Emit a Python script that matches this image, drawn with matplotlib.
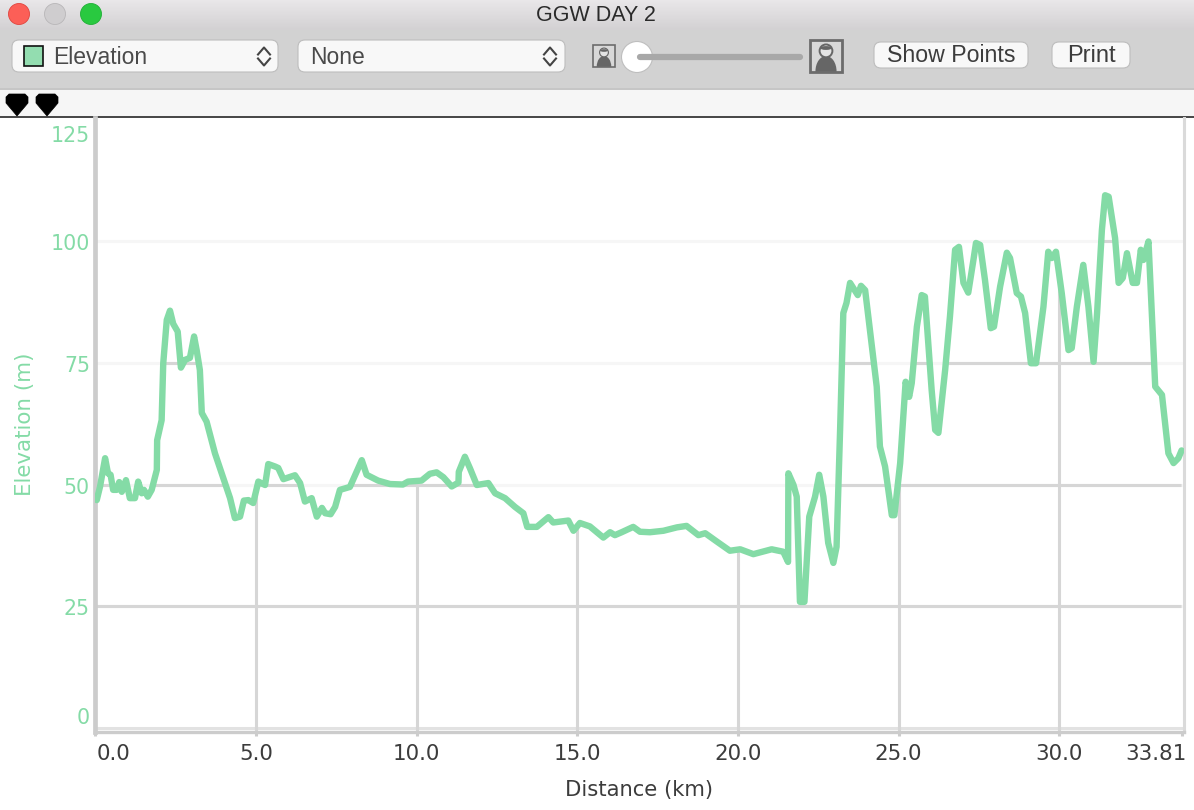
# -*- coding: utf-8 -*-
"""
Elevation profile in a desktop app window (GGW DAY 2).
"""

import numpy as np
import matplotlib
matplotlib.use('Agg')
from matplotlib import pyplot as plt
from matplotlib.patches import Circle, Ellipse, FancyBboxPatch, Polygon, Rectangle
from matplotlib.transforms import ScaledTranslation

# DATA
# ----
distance_km = [
    0.04, 0.14, 0.30, 0.39, 0.47, 0.55, 0.66, 0.74, 0.82, 0.95, 1.07, 1.23, 1.33, 1.44, 1.51,
    1.63, 1.75, 1.91, 1.92, 2.06, 2.11, 2.22, 2.32, 2.42, 2.56, 2.66, 2.79, 2.94, 3.07, 3.15,
    3.25, 3.31, 3.46, 3.72, 4.03, 4.19, 4.34, 4.50, 4.62, 4.76, 4.91, 5.07, 5.28, 5.38, 5.59,
    5.69, 5.85, 6.21, 6.37, 6.52, 6.73, 6.89, 7.05, 7.15, 7.32, 7.46, 7.61, 7.92, 8.29, 8.44,
    8.80, 9.17, 9.57, 9.73, 10.15, 10.41, 10.62, 10.83, 11.09, 11.30, 11.31, 11.50, 11.66,
    11.87, 12.23, 12.44, 12.75, 13.06, 13.32, 13.44, 13.74, 14.10, 14.25, 14.72, 14.88, 15.08,
    15.39, 15.81, 16.02, 16.17, 16.38, 16.74, 16.95, 17.26, 17.68, 18.10, 18.40, 18.77, 18.98,
    19.34, 19.75, 20.07, 20.48, 21.05, 21.41, 21.56, 21.57,
    21.73, 21.83, 21.93, 22.07, 22.22, 22.40, 22.53, 22.66, 22.81, 22.97, 23.07, 23.18, 23.28,
    23.38, 23.49, 23.73, 23.83, 23.96, 24.32, 24.42, 24.58, 24.79, 24.87, 25.05, 25.22, 25.33,
    25.41, 25.57, 25.72, 25.82, 26.03, 26.14, 26.24, 26.45, 26.60, 26.76, 26.88, 27.02, 27.17,
    27.33, 27.41, 27.54, 27.69, 27.87, 27.97, 28.16, 28.37, 28.47, 28.68, 28.81, 28.94, 29.12,
    29.28, 29.51, 29.66, 29.77, 29.90, 30.08, 30.29, 30.39, 30.55, 30.75, 30.91, 31.07, 31.18,
    31.33, 31.43, 31.54, 31.74, 31.85, 31.98, 32.11, 32.29, 32.42, 32.54, 32.62, 32.78, 32.99,
    33.20, 33.40, 33.56, 33.71, 33.81,
]
elevation_m = [
    46.8, 49.5, 55.4, 52.3, 52.0, 48.9, 48.9, 50.5, 48.5, 50.9, 47.2, 47.2, 50.6, 48.2, 48.9,
    47.5, 48.9, 53.0, 59.1, 63.2, 74.9, 83.8, 85.7, 83.0, 81.4, 74.0, 75.6, 76.0, 80.4, 77.6,
    73.5, 64.7, 62.9, 56.4, 50.3, 47.2, 43.1, 43.4, 46.7, 46.8, 46.2, 50.6, 49.9, 54.2, 53.7,
    53.4, 51.1, 51.9, 50.3, 46.5, 47.2, 43.4, 45.2, 44.1, 43.9, 45.4, 48.9, 49.5, 55.0, 52.0,
    50.8, 50.1, 50.0, 50.6, 50.8, 52.2, 52.5, 51.5, 49.6, 50.4, 52.6, 55.7, 53.3,
    49.9, 50.3, 48.2, 47.2, 45.4, 44.1, 41.3, 41.3, 43.3, 42.2, 42.6, 40.5, 42.1,
    41.4, 39.1, 40.2, 39.6, 40.2, 41.3, 40.3, 40.2, 40.5, 41.2, 41.5, 39.6, 40.0,
    38.3, 36.4, 36.7, 35.7, 36.7, 36.2, 34.1, 52.3,
    49.9, 47.5, 25.9, 25.9, 43.4, 47.5, 52.0, 47.5, 38.0, 33.9, 37.2, 61.2, 85.2,
    87.3, 91.4, 88.9, 90.8, 89.9, 70.1, 57.8, 53.7, 43.7, 43.7, 54.4, 71.1, 68.0,
    70.8, 82.4, 88.9, 88.6, 69.4, 61.2, 60.6, 73.5, 84.5, 98.2, 98.8, 91.4, 89.4,
    96.1, 99.6, 99.2, 92.0, 82.1, 82.4, 90.6, 97.6, 96.5, 89.3, 88.6, 85.2, 74.9,
    74.9, 86.5, 97.8, 96.5, 97.8, 89.3, 77.6, 78.0, 86.5, 95.1, 86.5, 75.2, 85.2,
    102.3, 109.4, 109.1, 100.6, 91.4, 92.4, 97.5, 91.4, 91.4, 98.2, 96.1, 99.9, 70.1,
    68.4, 56.4, 54.4, 55.4, 57.0,
]
x_ticks = [0.0, 5.0, 10.0, 15.0, 20.0, 25.0, 30.0, 33.81]
x_tick_labels = ['0.0', '5.0', '10.0', '15.0', '20.0', '25.0', '30.0', '33.81']
y_ticks = [0, 25, 50, 75, 100, 125]

GREEN = '#84DBA6'
GREEN_TEXT = '#84DBA6'
GRID_DARK = '#D6D6D6'
GRID_FAINT = '#F6F6F6'
SPINE = '#CCCCCC'
UI_FONT = ['Liberation Sans', 'DejaVu Sans']
W, H = 1194, 810

fig = plt.figure(figsize=(W/100, H/100), dpi=100, facecolor='white')


def rounded(ax, x0, y0, x1, y1, r, **kw):
    ax.add_patch(FancyBboxPatch((x0+r, y0+r), x1-x0-2*r, y1-y0-2*r,
                                boxstyle='round,pad=%f,rounding_size=%f' % (r, r), **kw))


def person(ax, x0, y0, x1, y1, lw):
    # little portrait icon next to the slider
    w, h = x1-x0, y1-y0
    frame = Rectangle((x0, y0), w, h, fc='#d8d8d8', ec='none')
    ax.add_patch(frame)
    body = Ellipse((x0+w/2, y0+h*0.98), w*0.66, h*0.96, fc='#666666', ec='none')
    ax.add_patch(body)
    body.set_clip_path(frame)
    ax.add_patch(Circle((x0+w/2, y0+h*0.34), w*0.2, fc='#e4e4e4', ec='#666666', lw=lw*0.7))
    ax.add_patch(Ellipse((x0+w/2, y0+h*0.25), w*0.36, h*0.12, fc='#666666', ec='none'))
    ax.add_patch(Rectangle((x0, y0), w, h, fc='none', ec='#6c6c6c', lw=lw))


def chevrons(ax, x, y):
    ax.plot([x-6, x, x+6], [y-2, y-9, y-2], color='#444444', lw=1.5)
    ax.plot([x-6, x, x+6], [y+2, y+9, y+2], color='#444444', lw=1.5)


def nudge(label, dx, dy):
    # shift a tick label by a few pixels, dy up is positive
    label.set_transform(label.get_transform() + ScaledTranslation(dx/100, dy/100, fig.dpi_scale_trans))


# WINDOW CHROME
# -------------
ui = fig.add_axes([0, 0, 1, 1])
ui.axis('off')
ui.imshow(np.linspace(0, 1, 30).reshape(-1, 1), extent=(0, W, 30, 0), aspect='auto',
          cmap=matplotlib.colors.LinearSegmentedColormap.from_list('bar', ['#E9E7E9', '#D3D1D3']))
ui.set_xlim(0, W)
ui.set_ylim(H, 0)
ui.add_patch(Rectangle((0, 30), W, 58, fc='#D2D2D2', ec='none'))
ui.add_patch(Rectangle((0, 88), W, 2, fc='#C6C6C6', ec='none'))
ui.add_patch(Rectangle((0, 90), W, 26, fc='#F6F6F6', ec='none'))
ui.add_patch(Rectangle((0, 116), W, 2, fc='#4A4A4A', ec='none'))

ui.add_patch(Ellipse((19, 14), 21, 21, fc='#FC5F57', ec='#E0443E', lw=0.6))
ui.add_patch(Ellipse((55, 14), 21, 21, fc='#CFCDCF', ec='#B8B6B8', lw=0.6))
ui.add_patch(Ellipse((91, 14), 21, 21, fc='#29C940', ec='#1FAF35', lw=0.6))
ui.text(595.5, 15.5, 'GGW DAY 2', family=UI_FONT, fontsize=15.5, color='#2A2A2A', ha='center', va='center')

for x0, x1 in [(12, 278), (298, 565)]:
    rounded(ui, x0, 40, x1, 72, 7, fc='#F8F8F8', ec='#BDBDBD', lw=0.8)
ui.add_patch(Rectangle((24, 46), 19, 20, fc='#93DDB0', ec='#111111', lw=1.2))
ui.text(53, 57.5, 'Elevation', family=UI_FONT, fontsize=16.5, color='#4A4A4A', va='center')
ui.text(310, 57.5, 'None', family=UI_FONT, fontsize=16.5, color='#4A4A4A', va='center')
chevrons(ui, 264, 56.5)
chevrons(ui, 550, 56.5)

person(ui, 593, 45, 615, 67, 1.2)
person(ui, 810, 40, 842, 72, 2.0)
ui.plot([640, 800], [57, 57], color='#A8A8A8', lw=4.5, solid_capstyle='round')
ui.add_patch(Ellipse((637, 57), 31, 31, fc='white', ec='#BEBEBE', lw=0.8))

rounded(ui, 874, 42, 1028, 68, 7, fc='#F8F8F8', ec='#BDBDBD', lw=0.8)
rounded(ui, 1052, 42, 1130, 68, 7, fc='#F8F8F8', ec='#BDBDBD', lw=0.8)
ui.text(951, 56, 'Show Points', family=UI_FONT, fontsize=16.7, color='#3C3C3C', ha='center', va='center')
ui.text(1091, 56, 'Print', family=UI_FONT, fontsize=17, color='#3C3C3C', ha='center', va='center')

for cx in [17, 47]:
    ui.add_patch(Polygon([(cx-8, 94), (cx+8, 94), (cx+11, 97), (cx+11, 103), (cx, 116),
                          (cx-11, 103), (cx-11, 97)], closed=True, fc='black', ec='black', lw=0.5,
                         joinstyle='round'))

# CHART
# -----
left, right, top, bottom = 94.5, 1183.5, 118, 732
ax = fig.add_axes([left/W, 1-bottom/H, (right-left)/W, (bottom-top)/H])
ax.set_facecolor('white')
ax.set_xlim(-0.03, 33.87)
ax.set_ylim(-0.82, 125.26)

# grid is faint over the curve and only shows properly in the area under it
under = Polygon(list(zip(distance_km, elevation_m)) + [(33.81, -0.82), (0.04, -0.82)],
                closed=True, transform=ax.transData, fc='none', ec='none')
for y in y_ticks[1:-1]:
    ax.axhline(y, color=GRID_FAINT, lw=2.2, zorder=1)
for y in y_ticks[1:-1]:
    ax.axhline(y, color=GRID_DARK, lw=2.2, zorder=2).set_clip_path(under)
for x in x_ticks[1:-1]:
    ax.axvline(x, color=GRID_DARK, lw=2.2, zorder=2).set_clip_path(under)
ax.axhline(0, color='#E2E2E2', lw=2.2, zorder=1)

ax.plot(distance_km, elevation_m, color=GREEN, lw=4.6, zorder=3,
        solid_joinstyle='round', solid_capstyle='round')

ax.spines['top'].set_visible(False)
ax.spines['left'].set_color(SPINE)
ax.spines['left'].set_linewidth(3.4)
ax.spines['bottom'].set_color(SPINE)
ax.spines['bottom'].set_linewidth(2.4)
ax.spines['right'].set_color('#DADADA')
ax.spines['right'].set_linewidth(2.2)

ax.set_xticks(x_ticks)
ax.set_xticklabels(x_tick_labels)
ax.set_yticks(y_ticks)
ax.tick_params(axis='x', length=3, width=2.2, color=SPINE, labelsize=15.4, labelcolor='#3C3C3C', pad=6)
ax.tick_params(axis='y', length=0, labelsize=14.8, labelcolor=GREEN_TEXT, pad=3.3)

# end labels are pushed inside the axis range
xlabels = ax.get_xticklabels()
xlabels[0].set_ha('left')
nudge(xlabels[0], 1, 0)
xlabels[-1].set_ha('right')
nudge(xlabels[-1], 5, 0)
ylabels = ax.get_yticklabels()
ylabels[0].set_va('bottom')
ylabels[-1].set_va('top')
nudge(ylabels[-1], 0, -7)
for lab in ylabels[1:-1]:
    nudge(lab, 0, -1)

ax.set_xlabel('Distance (km)', fontsize=15.2, color='#3C3C3C')
ax.xaxis.set_label_coords(0.4998, (bottom-790)/(bottom-top), transform=ax.transAxes)
ax.xaxis.label.set_va('center')
ax.set_ylabel('Elevation (m)', fontsize=15.4, color=GREEN_TEXT)
ax.yaxis.set_label_coords((25-left)/(right-left), (bottom-424)/(bottom-top))
ax.yaxis.label.set_va('center')

fig.savefig('out.png', dpi=100)
